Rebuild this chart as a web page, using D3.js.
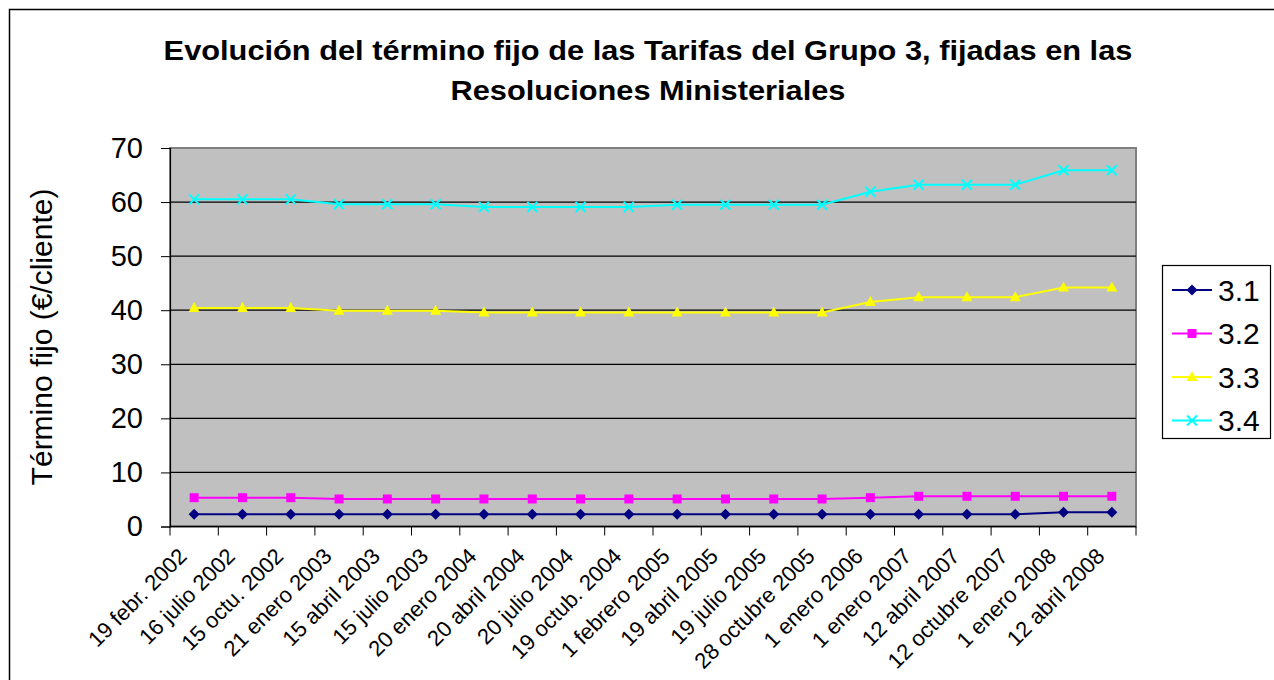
<!DOCTYPE html>
<html>
<head>
<meta charset="utf-8">
<script src="https://cdn.jsdelivr.net/npm/d3@7"></script>
<style>
  body { margin: 0; background: #fff; }
  text { font-family: Arial, "Liberation Sans", sans-serif; }
</style>
</head>
<body>
<div id="chart"></div>
<script>
const categories = [
  "19 febr. 2002", "16 julio 2002", "15 octu. 2002", "21 enero 2003", "15 abril 2003",
  "15 julio 2003", "20 enero 2004", "20 abril 2004", "20 julio 2004", "19 octub. 2004",
  "1 febrero 2005", "19 abril 2005", "19 julio 2005", "28 octubre 2005", "1 enero 2006",
  "1 enero 2007", "12 abril 2007", "12 octubre 2007", "1 enero 2008", "12 abril 2008"
];
const serie31 = [2.26, 2.26, 2.26, 2.26, 2.26, 2.26, 2.26, 2.26, 2.26, 2.26,
                 2.26, 2.26, 2.26, 2.26, 2.26, 2.26, 2.26, 2.26, 2.63, 2.63];
const serie32 = [5.33, 5.33, 5.33, 5.09, 5.09, 5.09, 5.09, 5.09, 5.09, 5.09,
                 5.09, 5.09, 5.09, 5.09, 5.33, 5.59, 5.59, 5.59, 5.59, 5.59];
const serie33 = [40.4, 40.4, 40.4, 39.9, 39.9, 39.9, 39.6, 39.6, 39.6, 39.6,
                 39.6, 39.6, 39.6, 39.6, 41.5, 42.4, 42.4, 42.4, 44.2, 44.2];
const serie34 = [60.5, 60.5, 60.5, 59.6, 59.6, 59.6, 59.1, 59.1, 59.1, 59.1,
                 59.5, 59.5, 59.5, 59.5, 61.9, 63.2, 63.2, 63.2, 65.9, 65.9];
const seriesNames = ["3.1", "3.2", "3.3", "3.4"];
const yTicks = [0, 10, 20, 30, 40, 50, 60, 70];

const series = [
  { name: seriesNames[0], values: serie31, color: "#000080", symbol: "diamond" },
  { name: seriesNames[1], values: serie32, color: "#FF00FF", symbol: "square" },
  { name: seriesNames[2], values: serie33, color: "#FFFF00", symbol: "triangle" },
  { name: seriesNames[3], values: serie34, color: "#00FFFF", symbol: "x" }
];

const svg = d3.select("#chart").append("svg")
  .attr("width", 1274)
  .attr("height", 680);

// marco del gráfico
svg.append("rect")
  .attr("x", 9.5).attr("y", 9.5)
  .attr("width", 1300).attr("height", 720)
  .attr("fill", "#fff")
  .attr("stroke", "#000")
  .attr("stroke-width", 1.5);

const plotLeft = 170, plotRight = 1136, plotTop = 148, plotBottom = 526.5;

const x = d3.scaleBand().domain(categories).range([plotLeft, plotRight]);
const y = d3.scaleLinear().domain([0, 70]).range([plotBottom, plotTop]);

// área de trazado
svg.append("rect")
  .attr("x", plotLeft).attr("y", plotTop)
  .attr("width", plotRight - plotLeft).attr("height", plotBottom - plotTop)
  .attr("fill", "#C0C0C0")
  .attr("stroke", "#808080")
  .attr("stroke-width", 2);

svg.selectAll("line.hgrid")
  .data(yTicks.slice(1, -1))
  .enter().append("line")
  .attr("class", "hgrid")
  .attr("x1", plotLeft).attr("x2", plotRight)
  .attr("y1", d => y(d)).attr("y2", d => y(d))
  .attr("stroke", "#000")
  .attr("stroke-width", 1.2);

// eje Y
const yAxis = svg.append("g")
  .attr("transform", `translate(${plotLeft},0)`)
  .call(d3.axisLeft(y).tickValues(yTicks).tickSize(9).tickPadding(18));
yAxis.select(".domain").attr("stroke", "#000").attr("stroke-width", 1.2);
yAxis.selectAll(".tick line").attr("stroke", "#000");
yAxis.selectAll("text")
  .attr("font-size", "29px")
  .attr("font-family", "Arial, 'Liberation Sans', sans-serif")
  .attr("fill", "#000");

// eje X
const xTickPos = categories.map(c => x(c)).concat([plotRight]);
svg.append("line")
  .attr("x1", plotLeft).attr("x2", plotRight)
  .attr("y1", plotBottom).attr("y2", plotBottom)
  .attr("stroke", "#000").attr("stroke-width", 1.5);
svg.selectAll("line.xtick")
  .data(xTickPos)
  .enter().append("line")
  .attr("class", "xtick")
  .attr("x1", d => d).attr("x2", d => d)
  .attr("y1", plotBottom).attr("y2", plotBottom + 9)
  .attr("stroke", "#000");

svg.selectAll("text.xlabel")
  .data(categories)
  .enter().append("text")
  .attr("class", "xlabel")
  .attr("text-anchor", "end")
  .attr("font-size", "22px")
  .attr("fill", "#000")
  .attr("transform", d => `translate(${x(d) + x.bandwidth() / 2 - 6},${plotBottom + 31}) rotate(-45)`)
  .text(d => d);

// título del eje Y
svg.append("text")
  .attr("transform", `translate(52,337) rotate(-90)`)
  .attr("text-anchor", "middle")
  .attr("font-size", "30px")
  .attr("fill", "#000")
  .text("Término fijo (€/cliente)");

// título (el original está algo ensanchado en horizontal)
const title = svg.append("text")
  .attr("text-anchor", "middle")
  .attr("font-size", "27px")
  .attr("font-weight", "bold")
  .attr("fill", "#000")
  .attr("transform", "translate(648,0) scale(1.14,1)");
title.append("tspan").attr("x", 0).attr("y", 60)
  .text("Evolución del término fijo de las Tarifas del Grupo 3, fijadas en las");
title.append("tspan").attr("x", 0).attr("y", 100)
  .text("Resoluciones Ministeriales");

// líneas y marcadores
const line = d3.line()
  .x((d, i) => x(categories[i]) + x.bandwidth() / 2)
  .y(d => y(d));

function drawMarker(g, s, cx, cy) {
  let d;
  if (s.symbol === "x") {
    const r = 5;
    g.append("path")
      .attr("d", `M${cx - r},${cy - r}L${cx + r},${cy + r}M${cx - r},${cy + r}L${cx + r},${cy - r}`)
      .attr("stroke", s.color).attr("stroke-width", 2).attr("fill", "none");
    return;
  }
  if (s.symbol === "diamond") {
    d = `M${cx},${cy - 5.5}L${cx + 5.5},${cy}L${cx},${cy + 5.5}L${cx - 5.5},${cy}Z`;
  } else if (s.symbol === "square") {
    d = `M${cx - 4.5},${cy - 4.5}h9v9h-9Z`;
  } else {
    d = `M${cx},${cy - 6}L${cx + 5.5},${cy + 4}L${cx - 5.5},${cy + 4}Z`;
  }
  g.append("path").attr("d", d).attr("fill", s.color);
}

series.forEach(s => {
  svg.append("path")
    .datum(s.values)
    .attr("fill", "none")
    .attr("stroke", s.color)
    .attr("stroke-width", 2)
    .attr("d", line);
  const g = svg.append("g");
  s.values.forEach((v, i) => {
    drawMarker(g, s, x(categories[i]) + x.bandwidth() / 2, y(v));
  });
});

// leyenda
svg.append("rect")
  .attr("x", 1162.5).attr("y", 265.5)
  .attr("width", 108).attr("height", 173)
  .attr("fill", "#fff")
  .attr("stroke", "#000")
  .attr("stroke-width", 1.2);

series.forEach((s, i) => {
  const ly = 290 + i * 43.5;
  svg.append("line")
    .attr("x1", 1172).attr("x2", 1212)
    .attr("y1", ly).attr("y2", ly)
    .attr("stroke", s.color).attr("stroke-width", 2);
  drawMarker(svg.append("g"), s, 1192, ly);
  svg.append("text")
    .attr("x", 1218).attr("y", ly)
    .attr("dy", "0.36em")
    .attr("font-size", "30px")
    .attr("fill", "#000")
    .text(s.name);
});
</script>
</body>
</html>
